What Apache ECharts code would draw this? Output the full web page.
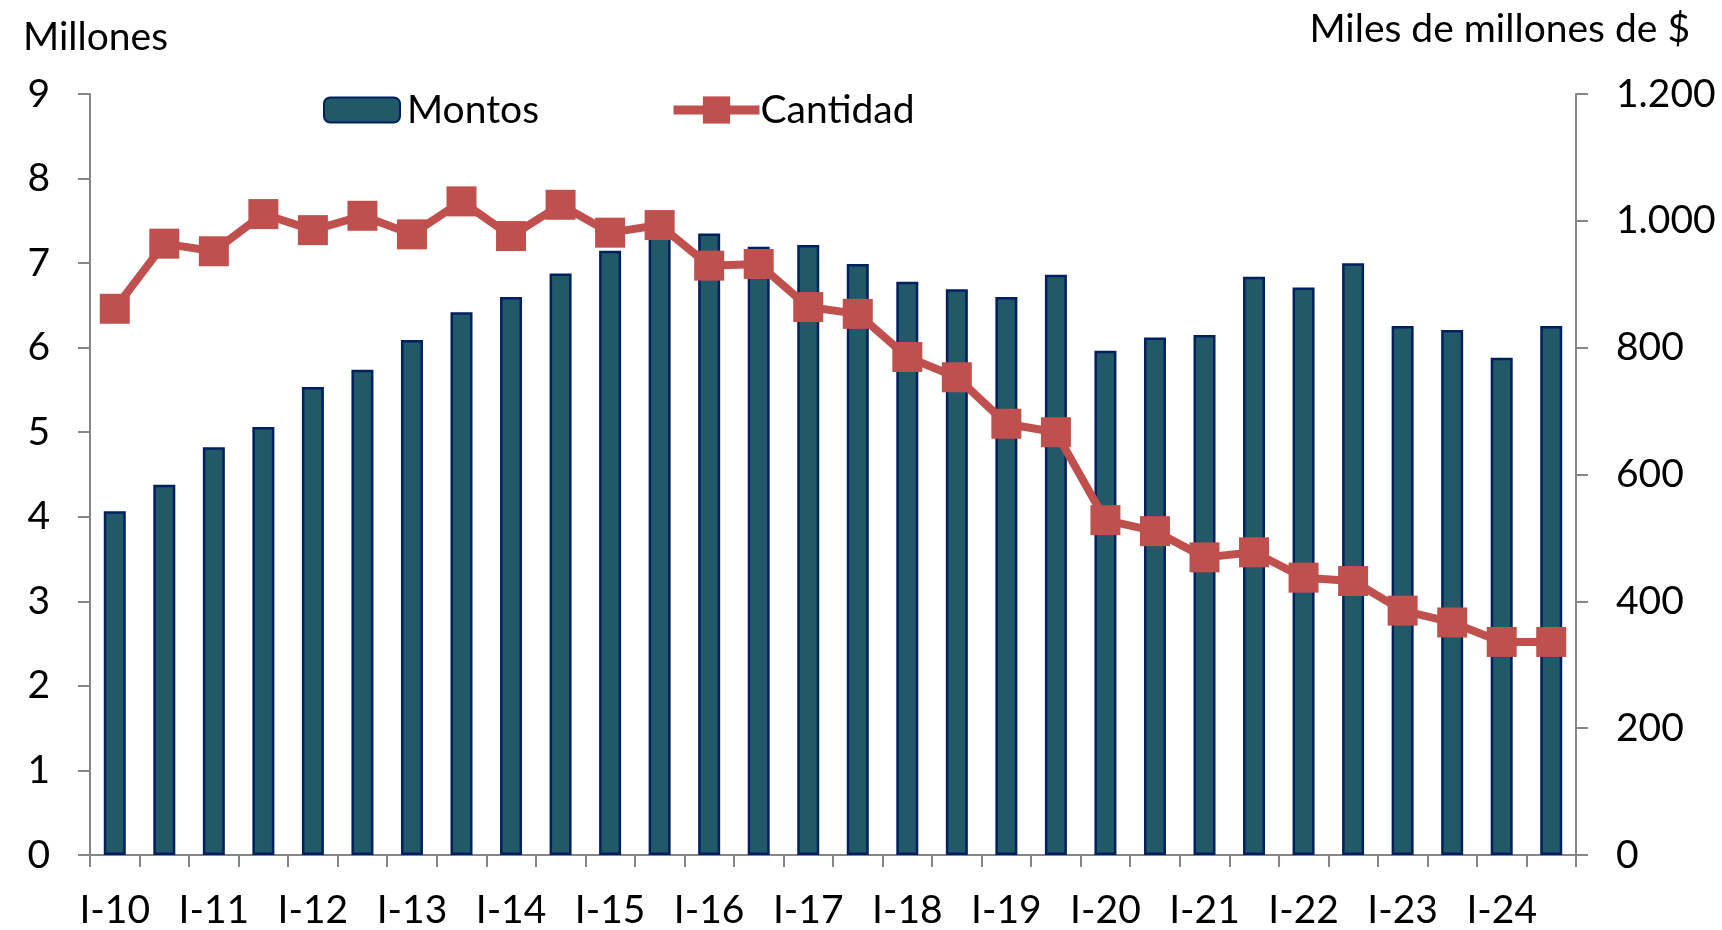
<!DOCTYPE html>
<html>
<head>
<meta charset="utf-8">
<script src="https://cdn.jsdelivr.net/npm/echarts@6/dist/echarts.min.js"></script>
<style>
html,body{margin:0;padding:0;background:#fff;}
#c{width:1722px;height:930px;}
</style>
</head>
<body>
<div id="c"></div>
<script>
var categories = ['I-10','II-10','I-11','II-11','I-12','II-12','I-13','II-13','I-14','II-14',
  'I-15','II-15','I-16','II-16','I-17','II-17','I-18','II-18','I-19','II-19',
  'I-20','II-20','I-21','II-21','I-22','II-22','I-23','II-23','I-24','II-24'];
// Montos (miles de millones de $) - right axis
var montos = [542, 584, 643, 675, 738, 765, 812, 856, 880, 917,
  953, 987, 980, 959, 962, 932, 904, 892, 880, 915,
  795, 816, 820, 912, 895, 933, 834, 828, 784, 834];
// Cantidad (millones) - left axis
var cantidad = [6.46, 7.23, 7.14, 7.58, 7.39, 7.56, 7.34, 7.73, 7.32, 7.69,
  7.36, 7.45, 6.97, 6.99, 6.48, 6.40, 5.89, 5.65, 5.10, 5.00,
  3.96, 3.83, 3.52, 3.58, 3.28, 3.24, 2.89, 2.75, 2.52, 2.52];
var leftTicks = {min: 0, max: 9, interval: 1};
var rightTicks = {min: 0, max: 1200, interval: 200};

var FONT = 'Lato';
var FS = 39;
var axisColor = '#868686';
var chart = echarts.init(document.getElementById('c'));
function fmtThousands(v){
  var s = String(Math.round(v));
  return s.replace(/\B(?=(\d{3})+(?!\d))/g, '.');
}
chart.setOption({
  animation: false,
  backgroundColor: '#fff',
  textStyle: {fontFamily: FONT},
  grid: {left: 90, right: 146, top: 94, bottom: 74},
  graphic: [
    {type: 'text', left: 23, top: 18, style: {text: 'Millones', font: FS + 'px ' + FONT, fill: '#000'}},
    {type: 'text', right: 32, top: 10, style: {text: 'Miles de millones de $', font: FS + 'px ' + FONT, fill: '#000'}}
  ],
  legend: [
    {data: ['Montos'], left: 323, top: 90, padding: 0, itemWidth: 76, itemHeight: 25, itemGap: 0,
     textStyle: {fontSize: FS, lineHeight: 40, fontFamily: FONT, color: '#000', padding: [0,0,0,2]}},
    {data: ['Cantidad'], left: 669, top: 90, padding: 0, itemWidth: 86, itemHeight: 34, itemGap: 0,
     lineStyle: {width: 9},
     textStyle: {fontSize: FS, lineHeight: 40, fontFamily: FONT, color: '#000', padding: [0,0,0,-4]}}
  ],
  xAxis: {
    type: 'category',
    data: categories,
    boundaryGap: true,
    axisLine: {lineStyle: {color: axisColor, width: 2}},
    axisTick: {show: true, interval: 0, length: 12, lineStyle: {color: axisColor, width: 2}},
    axisLabel: {interval: 1, margin: 36, fontSize: FS, fontFamily: FONT, color: '#000'}
  },
  yAxis: [
    {
      type: 'value', min: leftTicks.min, max: leftTicks.max, interval: leftTicks.interval,
      position: 'left',
      splitLine: {show: false},
      axisLine: {show: true, lineStyle: {color: axisColor, width: 2}},
      axisTick: {show: true, length: 12, lineStyle: {color: axisColor, width: 2}},
      axisLabel: {margin: 40, fontSize: FS, fontFamily: FONT, color: '#000'}
    },
    {
      type: 'value', min: rightTicks.min, max: rightTicks.max, interval: rightTicks.interval,
      position: 'right',
      splitLine: {show: false},
      axisLine: {show: true, lineStyle: {color: axisColor, width: 2}},
      axisTick: {show: true, length: 12, lineStyle: {color: axisColor, width: 2}},
      axisLabel: {margin: 40, fontSize: FS, fontFamily: FONT, color: '#000', formatter: fmtThousands}
    }
  ],
  series: [
    {
      name: 'Montos', type: 'bar', yAxisIndex: 1, data: montos,
      barWidth: 22,
      itemStyle: {color: '#215968', borderColor: '#002060', borderWidth: 2.5},
      z: 2
    },
    {
      name: 'Cantidad', type: 'line', yAxisIndex: 0, data: cantidad,
      symbol: 'rect', symbolSize: 30,
      lineStyle: {color: '#C0504D', width: 8},
      itemStyle: {color: '#C0504D'},
      z: 3
    }
  ]
});
</script>
</body>
</html>
